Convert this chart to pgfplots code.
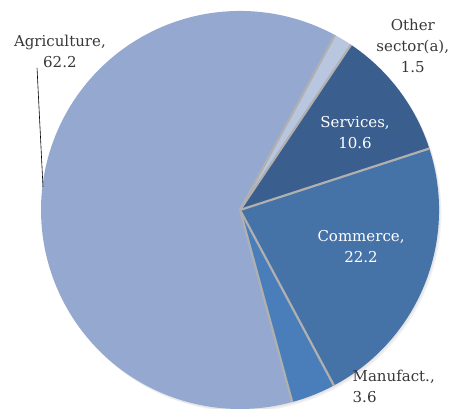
\documentclass[border=0pt]{standalone}
\usepackage{pgfplots}
\pgfplotsset{compat=1.18}
\usepackage{pgfplotstable}
\usepackage{fontspec}
\setmainfont{DejaVu Serif}
\definecolor{cAgri}{HTML}{95A9D0}
\definecolor{cOther}{HTML}{B9C6E0}
\definecolor{cServ}{HTML}{3A5E8E}
\definecolor{cComm}{HTML}{4572A7}
\definecolor{cManu}{HTML}{4A7EBB}
\definecolor{cEdge}{HTML}{B0B0B0}
\definecolor{cText}{HTML}{383838}
\tikzset{lab/.style={font=\fontsize{15}{21}\selectfont, align=center, inner sep=1pt}}
\begin{document}
\pgfplotstableread[col sep=comma]{
sector,value
Other,1.5
Services,10.6
Commerce,22.2
Manufact,3.6
Agriculture,62.2
}\pietable
\begin{tikzpicture}
\pgfplotstablegetelem{0}{value}\of\pietable \pgfmathsetmacro\vA{\pgfplotsretval}
\pgfplotstablegetelem{1}{value}\of\pietable \pgfmathsetmacro\vB{\pgfplotsretval}
\pgfplotstablegetelem{2}{value}\of\pietable \pgfmathsetmacro\vC{\pgfplotsretval}
\pgfplotstablegetelem{3}{value}\of\pietable \pgfmathsetmacro\vD{\pgfplotsretval}
\pgfplotstablegetelem{4}{value}\of\pietable \pgfmathsetmacro\vE{\pgfplotsretval}
\pgfmathsetmacro\tot{\vA+\vB+\vC+\vD+\vE}
\pgfmathsetmacro\sA{61.5}
\pgfmathsetmacro\sB{\sA-\vA/\tot*360}
\pgfmathsetmacro\sC{\sB-\vB/\tot*360}
\pgfmathsetmacro\sD{\sC-\vC/\tot*360}
\pgfmathsetmacro\sE{\sD-\vD/\tot*360}
\pgfmathsetmacro\sF{\sE-\vE/\tot*360}
\begin{axis}[hide axis, x=199pt, y=199pt,
  xmin=-1.206, xmax=1.065, ymin=-0.995, ymax=1.055, clip=false]
% soft shadow
\addplot[fill=black, fill opacity=0.05, draw=none, domain=0:360, samples=120, variable=\t] ({cos(t)+0.012},{sin(t)-0.014}) -- cycle;
\addplot[fill=black, fill opacity=0.05, draw=none, domain=0:360, samples=120, variable=\t] ({cos(t)+0.006},{sin(t)-0.008}) -- cycle;
% slices
\addplot[fill=cOther, draw=none, domain=\sB:\sA, samples=20, variable=\t] ({cos(t)},{sin(t)}) -- (axis cs:0,0) -- cycle;
\addplot[fill=cServ, draw=none, domain=\sC:\sB, samples=40, variable=\t] ({cos(t)},{sin(t)}) -- (axis cs:0,0) -- cycle;
\addplot[fill=cComm, draw=none, domain=\sD:\sC, samples=60, variable=\t] ({cos(t)},{sin(t)}) -- (axis cs:0,0) -- cycle;
\addplot[fill=cManu, draw=none, domain=\sE:\sD, samples=20, variable=\t] ({cos(t)},{sin(t)}) -- (axis cs:0,0) -- cycle;
\addplot[fill=cAgri, draw=none, domain=\sF:\sE, samples=140, variable=\t] ({cos(t)},{sin(t)}) -- (axis cs:0,0) -- cycle;
% slice borders
\addplot[cEdge, line width=2.2pt, domain=0:1, samples=2, variable=\t] ({t*cos(\sA)},{t*sin(\sA)});
\addplot[cEdge, line width=2.2pt, domain=0:1, samples=2, variable=\t] ({t*cos(\sB)},{t*sin(\sB)});
\addplot[cEdge, line width=2.2pt, domain=0:1, samples=2, variable=\t] ({t*cos(\sC)},{t*sin(\sC)});
\addplot[cEdge, line width=2.2pt, domain=0:1, samples=2, variable=\t] ({t*cos(\sD)},{t*sin(\sD)});
\addplot[cEdge, line width=2.2pt, domain=0:1, samples=2, variable=\t] ({t*cos(\sE)},{t*sin(\sE)});
% leader line
\addplot[black, line width=0.6pt] coordinates {(-0.990,0.116) (-1.020,0.714)};
% labels
\node[lab, text=cText] at (axis cs:-0.905,0.799) {Agriculture,\\62.2};
\node[lab, text=cText] at (axis cs:0.868,0.824) {Other\\sector(a),\\1.5};
\node[lab, text=white] at (axis cs:0.578,0.387) {Services,\\10.6};
\node[lab, text=white] at (axis cs:0.608,-0.186) {Commerce,\\22.2};
\node[lab, text=cText, anchor=west, align=left] at (axis cs:0.560,-0.885) {Manufact.,\\3.6};
\end{axis}
\pgfresetboundingbox
\useasboundingbox (current axis.south west) rectangle (current axis.north east);
\end{tikzpicture}
\end{document}
